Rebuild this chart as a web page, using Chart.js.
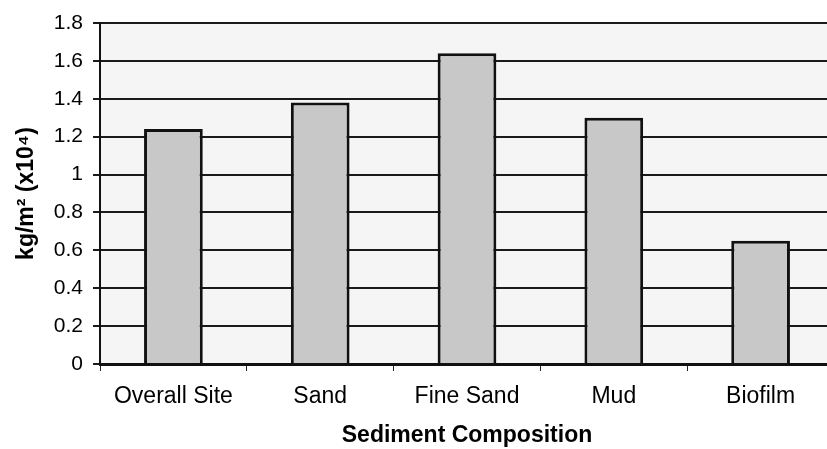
<!DOCTYPE html>
<html>
<head>
<meta charset="utf-8">
<script src="https://cdn.jsdelivr.net/npm/chart.js@4"></script>
<style>
html,body{margin:0;padding:0;background:#fff;overflow:hidden;}
#wrap{width:834px;height:449px;position:relative;}
</style>
</head>
<body>
<div id="wrap"><canvas id="c"></canvas></div>
<script>
const categories = ["Overall Site", "Sand", "Fine Sand", "Mud", "Biofilm"];
const values = [1.24, 1.38, 1.64, 1.30, 0.65];
const yTicks = [0, 0.2, 0.4, 0.6, 0.8, 1, 1.2, 1.4, 1.6, 1.8];
const xTitle = "Sediment Composition";
const yTitle = "kg/m\u00B2 (x10\u2074)";

const bgPlugin = {
  id: 'bg',
  beforeDraw(chart) {
    const {ctx, chartArea: a} = chart;
    ctx.save();
    ctx.fillStyle = '#f5f5f5';
    ctx.fillRect(a.left, a.top, a.right - a.left, a.bottom - a.top);
    ctx.restore();
  }
};

new Chart(document.getElementById('c'), {
  type: 'bar',
  data: {
    labels: categories,
    datasets: [{
      data: values,
      backgroundColor: '#c8c8c8',
      borderColor: '#111',
      borderWidth: 3,
      borderSkipped: 'bottom',
      categoryPercentage: 1,
      barPercentage: 0.40
    }]
  },
  options: {
    responsive: true,
    maintainAspectRatio: false,
    animation: false,
    devicePixelRatio: 1,
    layout: {padding: {top: 23, left: 0, right: 0, bottom: 0}},
    plugins: {legend: {display: false}, tooltip: {enabled: false}},
    scales: {
      x: {
        grid: {display: true, drawOnChartArea: false, drawTicks: true, tickLength: 7, color: '#222', lineWidth: 1},
        border: {display: true, color: '#111', width: 3},
        ticks: {color: '#000', font: {family: 'Liberation Sans, Arial, sans-serif', size: 23}, padding: 12, maxRotation: 0},
        title: {display: true, text: xTitle, color: '#000', font: {family: 'Liberation Sans, Arial, sans-serif', size: 23, weight: 'bold'}, padding: {top: 0, bottom: 0}},
        afterFit(scale) { scale.height = 85; }
      },
      y: {
        min: 0, max: 1.8,
        afterBuildTicks(scale) { scale.ticks = yTicks.map(v => ({value: v})); },
        grid: {color: '#1a1a1a', lineWidth: 2, tickLength: 7, drawTicks: true},
        border: {display: true, color: '#111', width: 2},
        ticks: {color: '#000', font: {family: 'Liberation Sans, Arial, sans-serif', size: 21}, padding: 10,
          callback: (v) => String(v)},
        title: {display: true, text: yTitle, color: '#000', font: {family: 'Liberation Sans, Arial, sans-serif', size: 23, weight: 'bold'}, padding: {top: 13, bottom: 0}},
        afterFit(scale) { scale.width = 100; }
      }
    }
  },
  plugins: [bgPlugin]
});
</script>
</body>
</html>
